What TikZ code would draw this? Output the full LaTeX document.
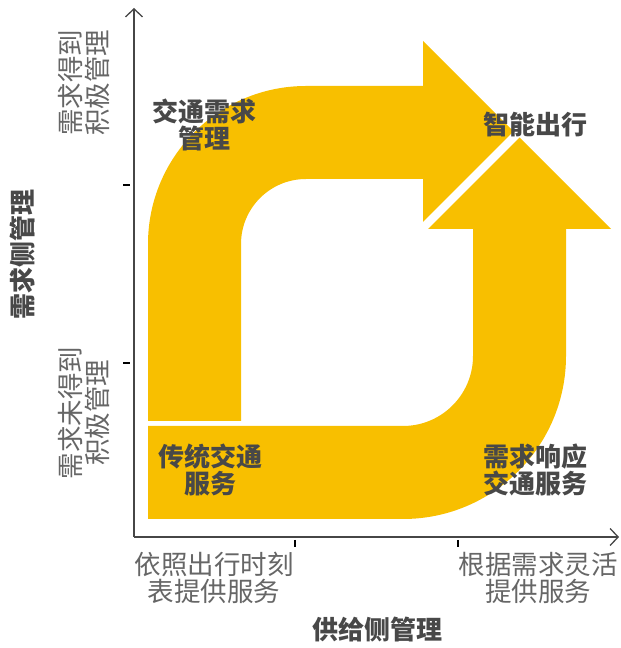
\documentclass[tikz,border=0pt]{standalone}
\usepackage{fontspec}
\setmainfont{Noto Sans CJK SC}
\usetikzlibrary{arrows.meta}
\definecolor{gold}{RGB}{248,191,0}
\definecolor{darktext}{RGB}{72,72,72}
\definecolor{lighttext}{RGB}{102,102,102}
\definecolor{axisgray}{RGB}{70,70,70}
\tikzset{
  band/.style={fill=gold, draw=none},
  boldlabel/.style={inner sep=0pt, align=center, text=darktext, font=\fontsize{26}{27}\selectfont\bfseries},
  axislabel/.style={inner sep=0pt, align=center, text=lighttext, font=\fontsize{26.5}{27}\selectfont},
  axisline/.style={draw=axisgray, line width=1.4pt, -{Straight Barb[length=8pt,width=17pt,line width=1.3pt]}},
  tickmark/.style={draw=black, line width=2pt}
}
\begin{document}
\begin{tikzpicture}[x=1pt,y=1pt]
\useasboundingbox (0,0) rectangle (621,648);

% axes
\coordinate (origin) at (134,111);
\coordinate (ytop) at (134,640);
\coordinate (xend) at (619,111);
\draw[axisline] (origin) -- (ytop);
\draw[axisline] (origin) -- (xend);

% ticks
\draw[tickmark] (123,463) -- (130,463);
\draw[tickmark] (123,285) -- (130,285);
\draw[tickmark] (295,108) -- (295,101);
\draw[tickmark] (458,108) -- (458,101);

% top C-shaped arrow
\path[band] (148,227) -- (148,404) arc[start angle=180, end angle=90, radius=158]
  -- (423,562) -- (423,607) -- (513.5,516.5) -- (423,426) -- (423,469)
  -- (306,469) arc[start angle=90, end angle=180, radius=65]
  -- (241,227) -- cycle;

% bottom L-shaped up arrow
\path[band] (148,222) -- (148,129) -- (403,129) arc[start angle=270, end angle=360, radius=163]
  -- (566,419) -- (611,419) -- (519.5,510.5) -- (428,419) -- (473,419)
  -- (473,292) arc[start angle=0, end angle=-90, radius=70]
  -- cycle;

% labels in the bands
\node[boldlabel] (tdm) at (204,523) {交通需求\\管理};
\node[boldlabel] (smart) at (535,523) {智能出行};
\node[boldlabel] (trad) at (210,178) {传统交通\\服务};
\node[boldlabel] (drt) at (535,178) {需求响应\\交通服务};

% axis labels
\node[boldlabel, rotate=90] (ytitle) at (23,393) {需求侧管理};
\node[axislabel, rotate=90] (yhigh) at (84,565) {需求得到\\积极管理};
\node[axislabel, rotate=90] (ylow) at (84,235) {需求未得到\\积极管理};
\node[axislabel] (xlow) at (214,70) {依照出行时刻\\表提供服务};
\node[axislabel] (xhigh) at (538,70) {根据需求灵活\\提供服务};
\node[boldlabel] (xtitle) at (377,18) {供给侧管理};
\end{tikzpicture}
\end{document}
